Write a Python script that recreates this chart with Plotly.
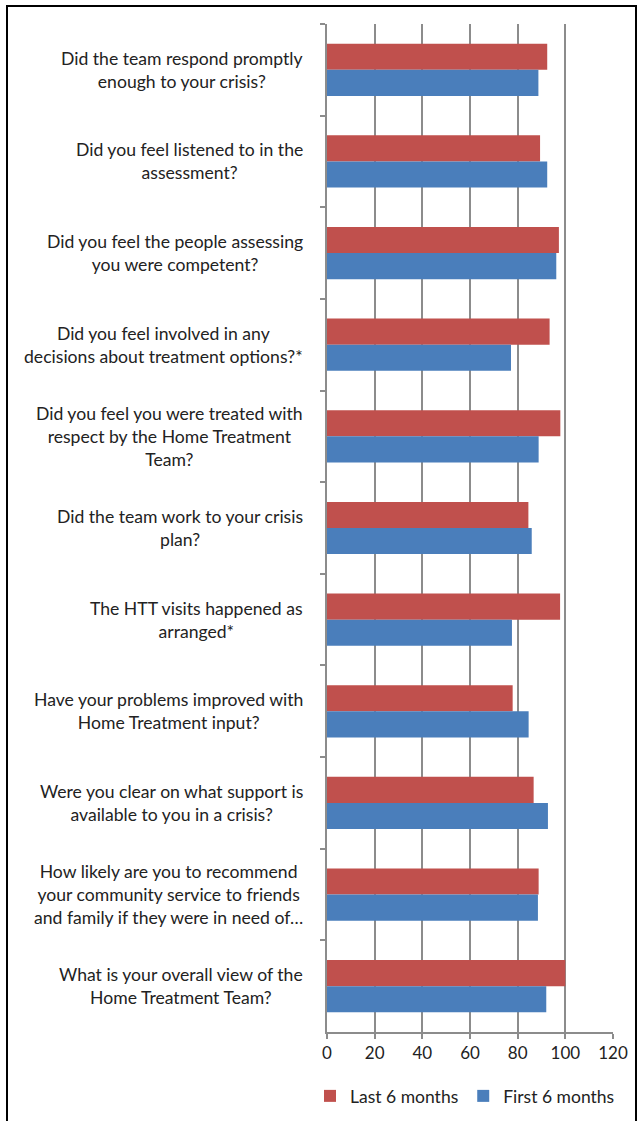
import plotly.graph_objects as go

categories = [
    "Did the team respond promptly<br>enough to your crisis?",
    "Did you feel listened to in the<br>assessment?",
    "Did you feel the people assessing<br>you were competent?",
    "Did you feel involved in any<br>decisions about treatment options?*",
    "Did you feel you were treated with<br>respect by the Home Treatment<br>Team?",
    "Did the team work to your crisis<br>plan?",
    "The HTT visits happened as<br>arranged*",
    "Have your problems improved with<br>Home Treatment input?",
    "Were you clear on what support is<br>available to you in a crisis?",
    "How likely are you to recommend<br>your community service to friends<br>and family if they were in need of…",
    "What is your overall view of the<br>Home Treatment Team?",
]
last_6_months = [92.4, 89.4, 97.3, 93.4, 97.9, 84.5, 97.8, 77.9, 86.7, 88.8, 100]
first_6_months = [88.7, 92.4, 96.2, 77.2, 88.8, 85.9, 77.6, 84.6, 92.7, 88.5, 92.0]
x_ticks = [0, 20, 40, 60, 80, 100, 120]

W, H = 637, 1121
L, R, T, B = 327, 24, 24, 89
pw, ph = W - L - R, H - T - B

def px_x(p):
    return (p - L) / pw

def px_y(p):
    return 1 - (p - T) / ph

FONT = "Lato"
TXT = "#222222"

fig = go.Figure()
fig.add_trace(go.Bar(y=categories, x=last_6_months, orientation="h",
                     name="Last 6 months", marker=dict(color="#C0504D", line=dict(width=0))))
fig.add_trace(go.Bar(y=categories, x=first_6_months, orientation="h",
                     name="First 6 months", marker=dict(color="#4A7EBB", line=dict(width=0))))

for c in categories:
    fig.add_annotation(x=px_x(305), xref="paper", y=c, yref="y", text=c,
                       showarrow=False, xanchor="right", yanchor="middle", align="center",
                       font=dict(family=FONT, size=17.6, color=TXT))

# outer frame
fig.add_shape(type="rect", xref="paper", yref="paper",
              x0=px_x(7), x1=px_x(636), y0=px_y(1135), y1=px_y(6),
              line=dict(color="black", width=2), fillcolor="rgba(0,0,0,0)", layer="above")

fig.update_layout(
    width=W, height=H,
    margin=dict(l=L, r=R, t=T, b=B, autoexpand=False),
    paper_bgcolor="white", plot_bgcolor="white",
    barmode="group", bargap=0.43, bargroupgap=0,
    showlegend=True,
    legend=dict(orientation="h", xref="paper", yref="paper",
                x=px_x(310), xanchor="left", y=px_y(1096), yanchor="middle",
                font=dict(family=FONT, size=17.5, color=TXT), traceorder="normal"),
    xaxis=dict(range=[0, 120], tickvals=x_ticks, showgrid=True, gridcolor="#8C8C8C", gridwidth=1.5,
               showline=True, linecolor="#8C8C8C", linewidth=1.5, ticks="outside", ticklen=5,
               tickcolor="#8C8C8C", tickwidth=1.5, zeroline=False,
               tickfont=dict(family=FONT, size=17, color=TXT)),
    yaxis=dict(autorange="reversed", showticklabels=False, showgrid=False, showline=True,
               linecolor="#8C8C8C", linewidth=1.5, ticks="outside", ticklen=5, tickcolor="#8C8C8C",
               tickwidth=1.5, tickson="boundaries"),
)

fig.write_html("out.html")
